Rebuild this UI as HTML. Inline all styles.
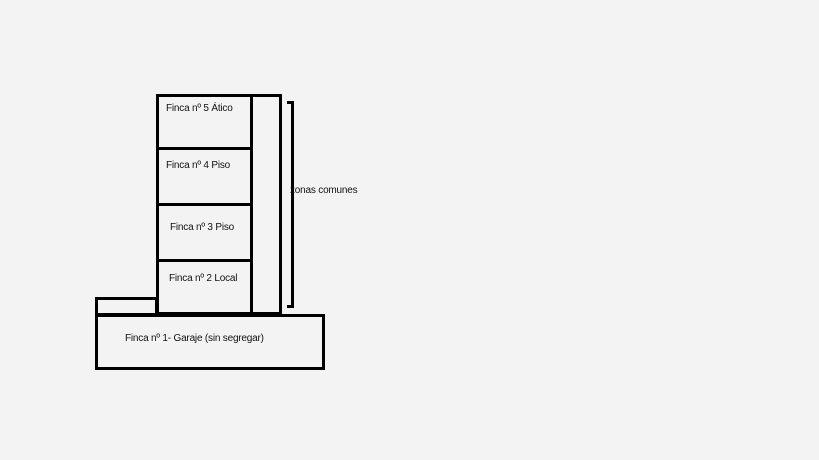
<!DOCTYPE html>
<html><head><style>
body{margin:0;width:819px;height:460px;background:#f3f3f3;position:relative;overflow:hidden;font-family:"Liberation Sans",sans-serif;font-size:10px;color:#111}
.b{position:absolute;border:3px solid #000;box-sizing:border-box}
.l{position:absolute;background:#000}
.t{position:absolute;white-space:nowrap;letter-spacing:-0.2px}
</style></head><body>
<div class="b" style="left:95px;top:297px;width:63px;height:19px"></div>
<div class="b" style="left:156px;top:94px;width:126px;height:221px"></div>
<div class="l" style="left:250px;top:94px;width:3px;height:221px"></div>
<div class="l" style="left:156px;top:147px;width:96px;height:3px"></div>
<div class="l" style="left:156px;top:203px;width:96px;height:3px"></div>
<div class="l" style="left:156px;top:259px;width:96px;height:3px"></div>
<div class="b" style="left:95px;top:314px;width:230px;height:56px;background:#f3f3f3"></div>
<div class="l" style="left:291px;top:101px;width:3px;height:207px"></div>
<div class="l" style="left:287px;top:101px;width:7px;height:3px"></div>
<div class="l" style="left:287px;top:305px;width:7px;height:3px"></div>
<div class="t" style="left:166px;top:103px">Finca nº 5 Ático</div>
<div class="t" style="left:166px;top:160px">Finca nº 4 Piso</div>
<div class="t" style="left:170px;top:222px">Finca nº 3 Piso</div>
<div class="t" style="left:169px;top:273px">Finca nº 2 Local</div>
<div class="t" style="left:125px;top:333px">Finca nº 1- Garaje (sin segregar)</div>
<div class="t" style="left:290px;top:185px">zonas comunes</div>
</body></html>
